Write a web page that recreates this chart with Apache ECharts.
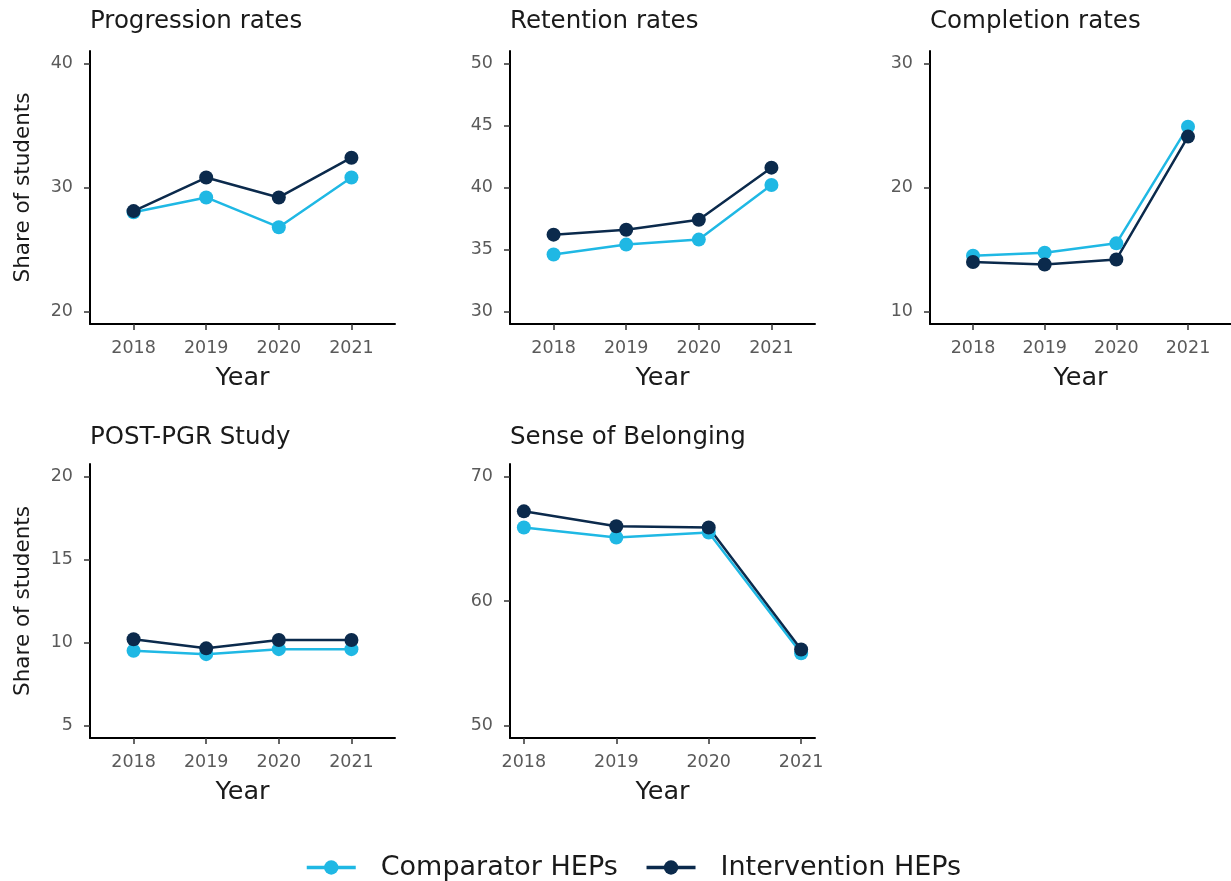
<!DOCTYPE html>
<html>
<head>
<meta charset="utf-8">
<script src="https://cdn.jsdelivr.net/npm/echarts@6/dist/echarts.min.js"></script>
<style>
html,body{margin:0;padding:0;background:#fff;}
#c{width:1231px;height:881px;}
</style>
</head>
<body>
<div id="c"></div>
<script>
// ---- data ----
const years = [2018, 2019, 2020, 2021];
const seriesNames = ['Comparator HEPs', 'Intervention HEPs'];

const progComparator   = [28.0, 29.2, 26.8, 30.8];
const progIntervention = [28.1, 30.8, 29.2, 32.4];
const retComparator    = [34.6, 35.4, 35.8, 40.2];
const retIntervention  = [36.2, 36.6, 37.4, 41.6];
const compComparator   = [14.5, 14.75, 15.5, 24.9];
const compIntervention = [14.0, 13.8, 14.2, 24.1];
const pgrComparator    = [9.5, 9.3, 9.6, 9.6];
const pgrIntervention  = [10.2, 9.65, 10.15, 10.15];
const belComparator    = [65.9, 65.1, 65.5, 55.8];
const belIntervention  = [67.2, 66.0, 65.9, 56.1];

const progTicks = [20, 30, 40];
const retTicks  = [30, 35, 40, 45, 50];
const compTicks = [10, 20, 30];
const pgrTicks  = [5, 10, 15, 20];
const belTicks  = [50, 60, 70];

const panelTitles = ['Progression rates', 'Retention rates', 'Completion rates', 'POST-PGR Study', 'Sense of Belonging'];
const yAxisTitle = 'Share of students';
const xAxisTitle = 'Year';

// ---- layout / style ----
const FONT = 'DejaVu Sans';
const C_COMP = '#1fb8e4';
const C_INT = '#0b2a4c';

const panels = [
  {title: panelTitles[0], comp: progComparator, int: progIntervention, ticks: progTicks, yMin: 19, yMax: 41, xMin: 2017.4, xMax: 2021.6, grid: {left: 90, top: 51, width: 305, height: 273}, titleTop: 8, yName: true},
  {title: panelTitles[1], comp: retComparator, int: retIntervention, ticks: retTicks, yMin: 29, yMax: 51, xMin: 2017.4, xMax: 2021.6, grid: {left: 510, top: 51, width: 305, height: 273}, titleTop: 8, yName: false},
  {title: panelTitles[2], comp: compComparator, int: compIntervention, ticks: compTicks, yMin: 9, yMax: 31, xMin: 2017.4, xMax: 2021.6, grid: {left: 930, top: 51, width: 305, height: 273}, titleTop: 8, yName: false},
  {title: panelTitles[3], comp: pgrComparator, int: pgrIntervention, ticks: pgrTicks, yMin: 4.25, yMax: 20.75, xMin: 2017.4, xMax: 2021.6, grid: {left: 90, top: 464, width: 305, height: 274}, titleTop: 424, yName: true},
  {title: panelTitles[4], comp: belComparator, int: belIntervention, ticks: belTicks, yMin: 49, yMax: 71, xMin: 2017.85, xMax: 2021.15, grid: {left: 510, top: 464, width: 305, height: 274}, titleTop: 424, yName: false}
];

const titles = [], grids = [], xAxes = [], yAxes = [], series = [];
panels.forEach((p, i) => {
  titles.push({
    text: p.title, left: p.grid.left, top: p.titleTop, padding: 0,
    textStyle: {fontFamily: FONT, fontSize: 24.5, fontWeight: 'normal', color: '#1a1a1a', lineHeight: 28}
  });
  grids.push(Object.assign({containLabel: false}, p.grid));
  xAxes.push({
    type: 'value', gridIndex: i, min: p.xMin, max: p.xMax,
    name: xAxisTitle, nameLocation: 'middle', nameGap: 41,
    nameTextStyle: {fontFamily: FONT, fontSize: 25.5, color: '#1a1a1a'},
    axisLine: {show: true, lineStyle: {color: '#000', width: 2}},
    axisTick: {show: true, length: 6, lineStyle: {color: '#333', width: 1.5}, customValues: years},
    axisLabel: {fontFamily: FONT, fontSize: 17.5, color: '#5a5a5a', margin: 15, customValues: years, formatter: v => String(v)},
    splitLine: {show: false}
  });
  yAxes.push({
    type: 'value', gridIndex: i, min: p.yMin, max: p.yMax,
    name: p.yName ? yAxisTitle : '', nameLocation: 'middle', nameGap: 56, nameRotate: 90,
    nameTextStyle: {fontFamily: FONT, fontSize: 21.5, color: '#1a1a1a'},
    axisLine: {show: true, lineStyle: {color: '#000', width: 2}},
    axisTick: {show: true, length: 6, lineStyle: {color: '#333', width: 1.5}, customValues: p.ticks},
    axisLabel: {fontFamily: FONT, fontSize: 17.5, color: '#5a5a5a', margin: 17, customValues: p.ticks, formatter: v => String(v)},
    splitLine: {show: false}
  });
  series.push({
    name: seriesNames[0], type: 'line', xAxisIndex: i, yAxisIndex: i,
    data: years.map((y, k) => [y, p.comp[k]]),
    symbol: 'circle', symbolSize: 14,
    lineStyle: {color: C_COMP, width: 2.5}, itemStyle: {color: C_COMP},
    emphasis: {disabled: true}, animation: false, clip: false
  });
  series.push({
    name: seriesNames[1], type: 'line', xAxisIndex: i, yAxisIndex: i,
    data: years.map((y, k) => [y, p.int[k]]),
    symbol: 'circle', symbolSize: 14,
    lineStyle: {color: C_INT, width: 2.5}, itemStyle: {color: C_INT},
    emphasis: {disabled: true}, animation: false, clip: false
  });
});

const chart = echarts.init(document.getElementById('c'), null, {renderer: 'canvas'});
chart.setOption({
  backgroundColor: '#fff',
  animation: false,
  title: titles,
  grid: grids,
  xAxis: xAxes,
  yAxis: yAxes,
  legend: {
    data: seriesNames, left: 300, top: 849, itemWidth: 49, itemHeight: 18, itemGap: 27,
    lineStyle: {width: 3.5},
    textStyle: {fontFamily: FONT, fontSize: 27, color: '#1a1a1a', padding: [0, 0, 0, 20]}
  },
  series: series
});
</script>
</body>
</html>
